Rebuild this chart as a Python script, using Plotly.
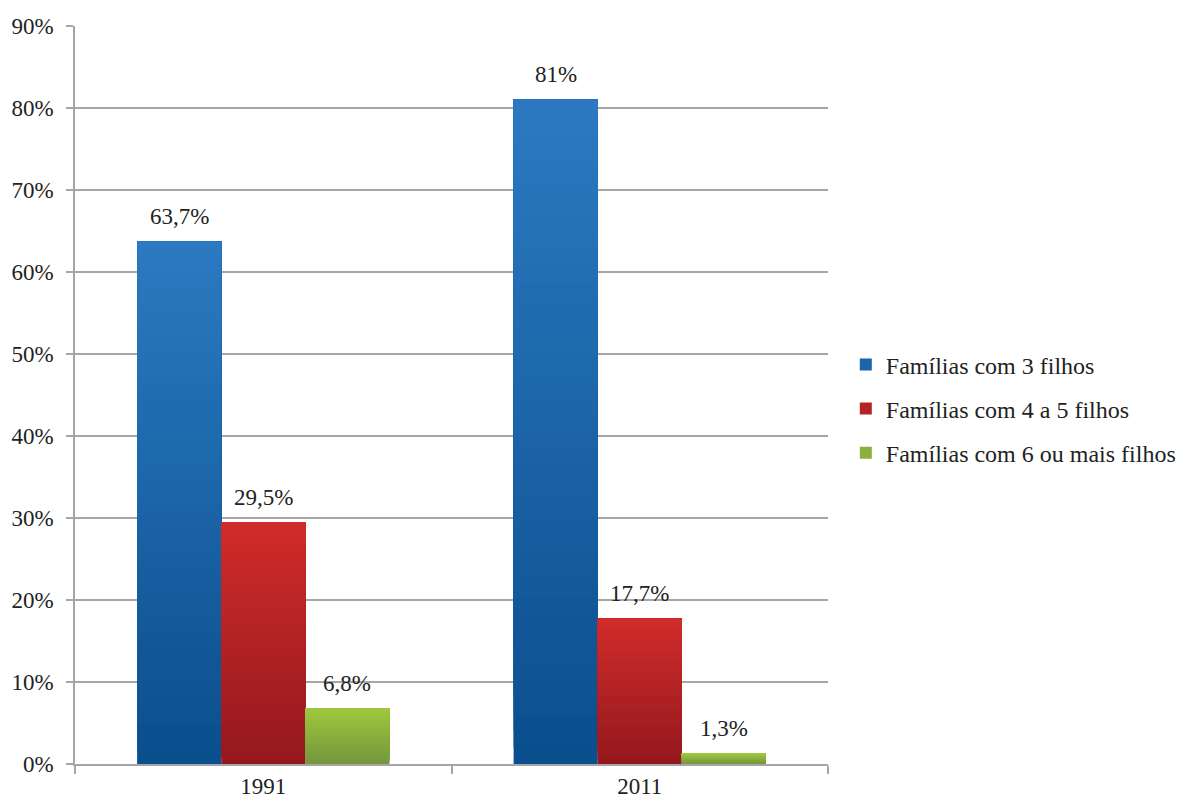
import plotly.graph_objects as go

# Data
years = ["1991", "2011"]
series_names = [
    "Famílias com 3 filhos",
    "Famílias com 4 a 5 filhos",
    "Famílias com 6 ou mais filhos",
]
familias_3 = [63.7, 81.0]
familias_4a5 = [29.5, 17.7]
familias_6mais = [6.8, 1.3]
y_ticks = [0, 10, 20, 30, 40, 50, 60, 70, 80, 90]

series_values = [familias_3, familias_4a5, familias_6mais]

# Vertical gradient for each series: (top colour, bottom colour)
gradients = [
    ((44, 122, 194), (10, 78, 140)),
    ((208, 44, 42), (148, 24, 30)),
    ((160, 200, 60), (116, 150, 62)),
]

FONT = "Liberation Serif"
FONT_SIZE = 23
TEXT_COLOR = "#222222"
N_STEPS = 40
BARGAP = 0.33
bar_w = (1 - BARGAP) / len(series_values)


def mix(c_top, c_bot, t):
    # t = 0 at the bar base, t = 1 at the bar top
    return "rgb({},{},{})".format(*[round(b + (a - b) * t) for a, b in zip(c_top, c_bot)])


fig = go.Figure()

# Each gradient step is a bar running from its own base up to the full value;
# later steps are drawn over earlier ones, so no seams appear between steps.
for s, (name, vals, (c_top, c_bot)) in enumerate(zip(series_names, series_values, gradients)):
    for k in range(N_STEPS):
        t_mid = (k + 0.5) / N_STEPS
        fig.add_trace(go.Bar(
            x=years,
            y=[v * (1 - k / N_STEPS) for v in vals],
            base=[v * k / N_STEPS for v in vals],
            offsetgroup=str(s),
            legendgroup=str(s),
            name=name,
            showlegend=(k == N_STEPS // 2),
            marker=dict(color=mix(c_top, c_bot, t_mid), line=dict(width=0)),
            hoverinfo="skip",
        ))

# Value labels above each bar
for s, vals in enumerate(series_values):
    for i, v in enumerate(vals):
        fig.add_annotation(
            x=i + (s - 1) * bar_w,
            y=v,
            xref="x",
            yref="y",
            text=f"{v:g}".replace(".", ",") + "%",
            showarrow=False,
            yanchor="middle",
            yshift=25,
            font=dict(family=FONT, size=FONT_SIZE, color=TEXT_COLOR),
        )

fig.update_layout(
    width=1178,
    height=800,
    barmode="group",
    bargap=BARGAP,
    bargroupgap=0,
    plot_bgcolor="white",
    paper_bgcolor="white",
    margin=dict(l=75, r=350, t=26, b=36),
    font=dict(family=FONT, size=FONT_SIZE, color=TEXT_COLOR),
    legend=dict(
        xref="container",
        yref="container",
        x=0.718,
        xanchor="left",
        y=0.489,
        yanchor="middle",
        font=dict(family=FONT, size=24, color=TEXT_COLOR),
        traceorder="grouped",
        tracegroupgap=10,
        itemwidth=30,
    ),
    showlegend=True,
)

fig.update_yaxes(
    range=[0, 90],
    tickvals=y_ticks,
    ticktext=[f"{t}%" for t in y_ticks],
    showgrid=True,
    gridcolor="#a6a6a6",
    gridwidth=1.5,
    showline=True,
    linecolor="#a6a6a6",
    linewidth=1.5,
    ticks="outside",
    ticklen=7,
    tickcolor="#a6a6a6",
    tickwidth=1.5,
    ticklabelstandoff=8,
    zeroline=False,
    automargin=False,
    tickfont=dict(family=FONT, size=FONT_SIZE, color=TEXT_COLOR),
)

fig.update_xaxes(
    type="category",
    showline=True,
    linecolor="#a6a6a6",
    linewidth=1.5,
    ticks="outside",
    tickson="boundaries",
    ticklen=8,
    tickcolor="#a6a6a6",
    tickwidth=1.5,
    ticklabelstandoff=1,
    showgrid=False,
    automargin=False,
    tickfont=dict(family=FONT, size=FONT_SIZE, color=TEXT_COLOR),
)

fig.write_html("out.html")
